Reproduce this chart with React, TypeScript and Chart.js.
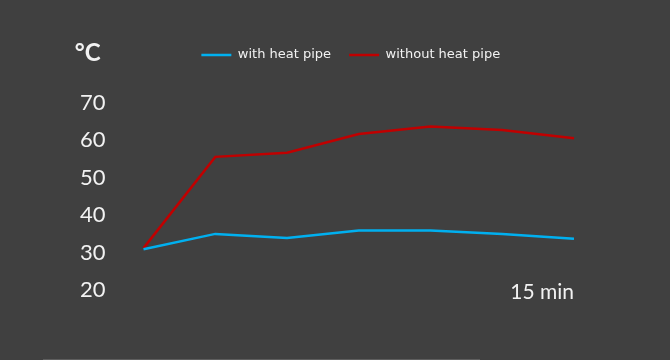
import React, { useEffect, useRef } from "react";
import { Chart, registerables } from "chart.js";

Chart.register(...registerables);

const timeLabels = ["0", "2.5", "5", "7.5", "10", "12.5", "15"];
const withHeatPipe = [30.9, 35.0, 33.9, 35.9, 35.9, 35.0, 33.7];
const withoutHeatPipe = [31.2, 55.6, 56.7, 61.7, 63.7, 62.8, 60.6];
const seriesNames = ["with heat pipe", "without heat pipe"];
const yTicks = [20, 30, 40, 50, 60, 70];
const unitLabel = "°C";
const timeLabel = "15 min";

const BG = "#404040";
const TEXT = "#f2f2f2";

const legendSpacer = {
  id: "legendSpacer",
  beforeInit(chart: any) {
    const legend = chart.legend;
    if (!legend) return;
    const orig = legend.fit;
    legend.fit = function () {
      orig.call(this);
      this.height += 31.5;
    };
  },
  afterLayout(chart: any) {
    const legend = chart.legend;
    if (!legend) return;
    legend.left -= 8;
    legend.right -= 8;
  },
};

const extraText = {
  id: "extraText",
  afterDraw(chart: any) {
    const ctx = chart.ctx;
    const xs = chart.scales.x;
    const ys = chart.scales.y;
    ctx.save();
    ctx.fillStyle = TEXT;
    ctx.font = "21px Lato";
    ctx.textAlign = "right";
    ctx.textBaseline = "middle";
    ctx.fillText(timeLabel, xs.getPixelForValue(timeLabels.length - 1), ys.getPixelForValue(yTicks[0]) + 2);
    ctx.font = "bold 24px Lato";
    ctx.fillText(unitLabel, chart.chartArea.left - 43, 53);
    ctx.fillStyle = "#5e5e5e";
    ctx.fillRect(43, chart.height - 1, 437, 1);
    ctx.restore();
  },
};

export default function App() {
  const ref = useRef<HTMLCanvasElement>(null);
  useEffect(() => {
    document.body.style.margin = "0";
    const chart = new Chart(ref.current!, {
      type: "line",
      data: {
        labels: timeLabels,
        datasets: [
          {
            label: seriesNames[0],
            data: withHeatPipe,
            borderColor: "#00b0f0",
            backgroundColor: "#00b0f0",
            borderWidth: 2.5,
            pointRadius: 0,
            tension: 0,
          },
          {
            label: seriesNames[1],
            data: withoutHeatPipe,
            borderColor: "#c00000",
            backgroundColor: "#c00000",
            borderWidth: 2.5,
            pointRadius: 0,
            tension: 0,
          },
        ],
      },
      options: {
        animation: false,
        responsive: false,
        devicePixelRatio: 1,
        layout: { padding: { top: 30.5, left: 42, right: 96, bottom: 70 } },
        plugins: {
          legend: {
            display: true,
            position: "top",
            fullSize: false,
            labels: {
              color: TEXT,
              font: { family: "DejaVu Sans", size: 13 },
              usePointStyle: true,
              pointStyle: "line",
              pointStyleWidth: 30,
              padding: 18,
            },
          },
          tooltip: { enabled: false },
        },
        scales: {
          x: {
            display: false,
          },
          y: {
            min: 20,
            max: 70,
            afterBuildTicks(axis: any) {
              axis.ticks = yTicks.map((v) => ({ value: v }));
            },
            ticks: {
              color: TEXT,
              font: { family: "Lato", size: 22 },
              padding: 38,
            },
            grid: { display: false, drawTicks: false },
            border: { display: false },
          },
        },
      },
      plugins: [legendSpacer, extraText],
    });
    return () => chart.destroy();
  }, []);
  return (
    <div style={{ width: 670, height: 360, background: BG }}>
      <canvas ref={ref} width={670} height={360} style={{ display: "block" }} />
    </div>
  );
}
